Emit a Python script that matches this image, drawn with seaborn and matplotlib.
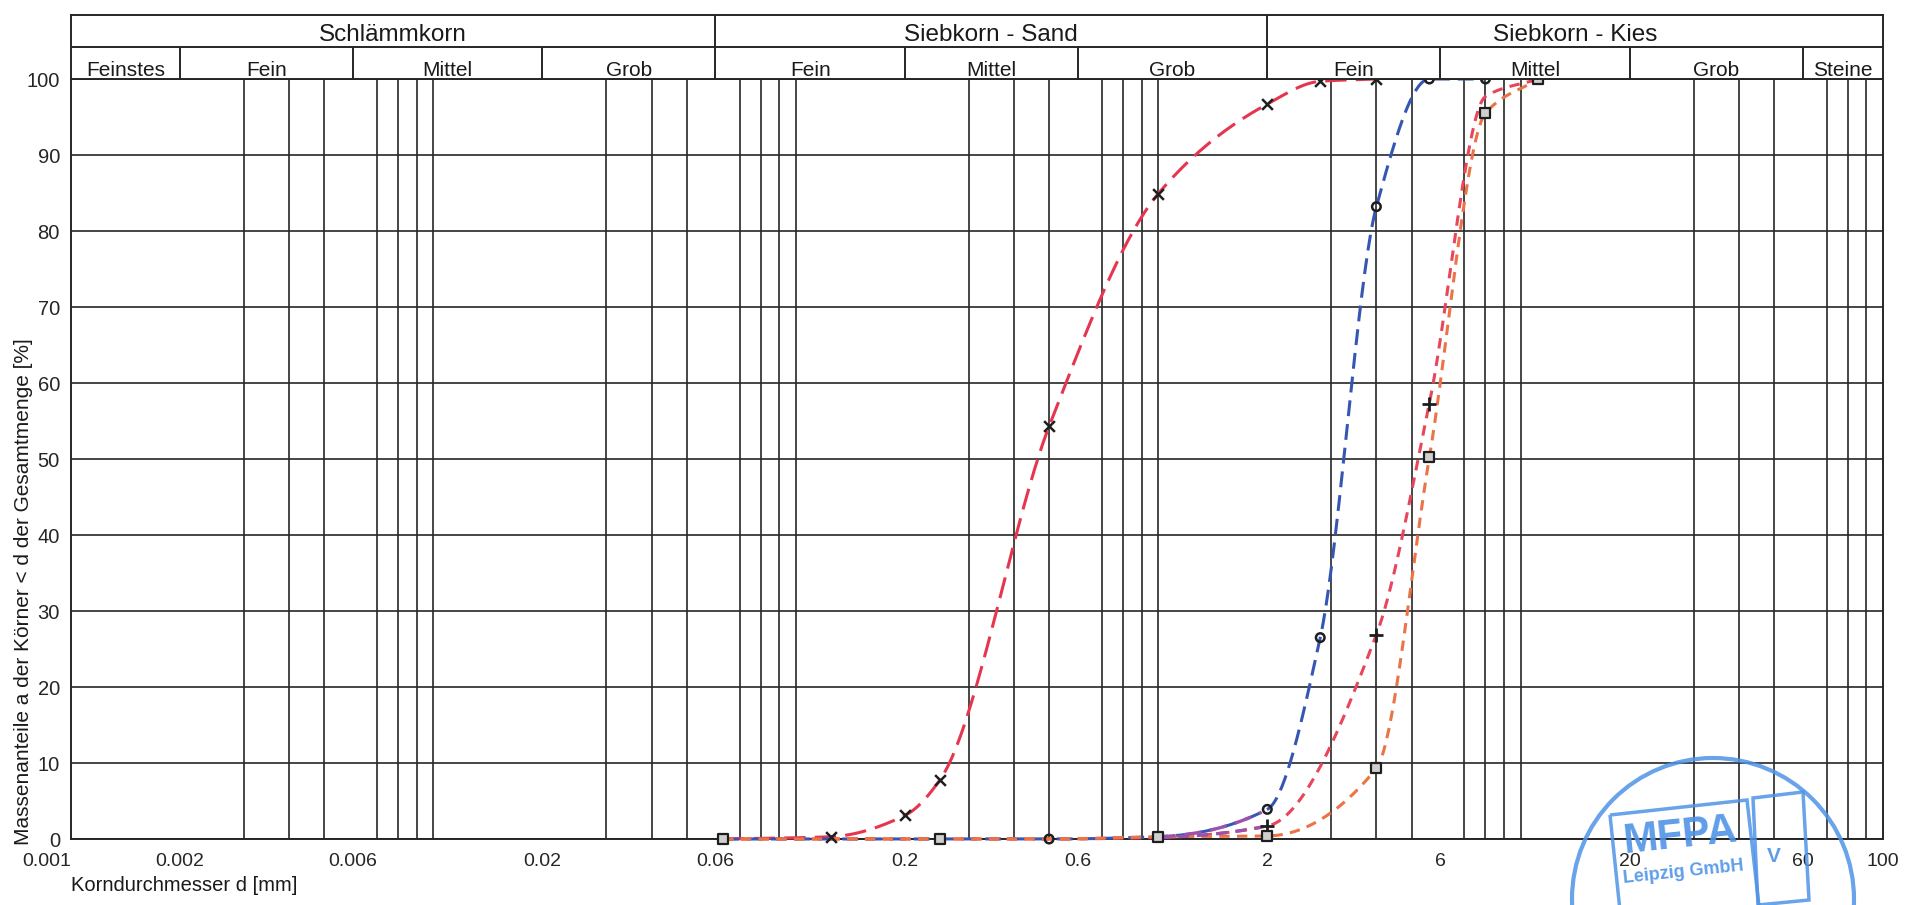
import matplotlib
matplotlib.use("Agg")
import matplotlib.pyplot as plt
from matplotlib import patches, transforms
from matplotlib.ticker import FixedLocator, NullFormatter
import numpy as np
import pandas as pd
import seaborn as sns

# grain size distribution: sieve size [mm] -> passing [%]
sand_d = [0.063, 0.125, 0.2, 0.25, 0.5, 1.0, 2.0, 2.8, 4.0]
sand_p = [0.0, 0.3, 3.1, 7.8, 54.3, 84.9, 96.7, 99.7, 100.0]

kies1_d = [0.063, 0.125, 0.25, 0.5, 1.0, 2.0, 2.8, 4.0, 5.6, 8.0]
kies1_p = [0.0, 0.0, 0.0, 0.0, 0.3, 3.9, 26.5, 83.2, 100.0, 100.0]

kies2_d = [0.063, 0.125, 0.25, 0.5, 1.0, 2.0, 4.0, 5.6, 8.0, 11.2]
kies2_p = [0.0, 0.0, 0.0, 0.0, 0.2, 1.7, 26.9, 57.3, 97.7, 100.0]

kies3_d = [0.063, 0.125, 0.25, 0.5, 1.0, 2.0, 4.0, 5.6, 8.0, 11.2]
kies3_p = [0.0, 0.0, 0.0, 0.0, 0.3, 0.4, 9.3, 50.2, 95.5, 100.0]

# header classes (DIN 18123 style)
main_groups = ["Schlämmkorn", "Siebkorn - Sand", "Siebkorn - Kies"]
main_bounds = [0.001, 0.06, 2, 100]
sub_groups = ["Feinstes", "Fein", "Mittel", "Grob", "Fein", "Mittel", "Grob",
              "Fein", "Mittel", "Grob", "Steine"]
sub_bounds = [0.001, 0.002, 0.006, 0.02, 0.06, 0.2, 0.6, 2, 6, 20, 60, 100]

x_ticks = [0.001, 0.002, 0.006, 0.02, 0.06, 0.2, 0.6, 2, 6, 20, 60, 100]
x_labels = ["0.001", "0.002", "0.006", "0.02", "0.06", "0.2", "0.6",
            "2", "6", "20", "60", "100"]
y_ticks = list(range(0, 101, 10))


def smooth_curve(d, p, n=40):
    """Monotone cubic (Fritsch-Carlson) through the sieve points, in log d."""
    x = np.log10(np.asarray(d, float))
    y = np.asarray(p, float)
    h = np.diff(x)
    delta = np.diff(y) / h
    m = np.zeros_like(y)
    for k in range(1, len(y) - 1):
        if delta[k - 1] * delta[k] > 0:
            w1 = 2 * h[k] + h[k - 1]
            w2 = h[k] + 2 * h[k - 1]
            m[k] = (w1 + w2) / (w1 / delta[k - 1] + w2 / delta[k])
    m[0] = delta[0]
    m[-1] = delta[-1]
    xs, ys = [], []
    for k in range(len(h)):
        t = np.linspace(0, 1, n)
        h00 = 2 * t**3 - 3 * t**2 + 1
        h10 = t**3 - 2 * t**2 + t
        h01 = -2 * t**3 + 3 * t**2
        h11 = t**3 - t**2
        yy = h00 * y[k] + h10 * h[k] * m[k] + h01 * y[k + 1] + h11 * h[k] * m[k + 1]
        xs.append(x[k] + t * h[k])
        ys.append(yy)
    return 10 ** np.concatenate(xs), np.clip(np.concatenate(ys), 0, 100)


sns.set_style("white")
plt.rcParams["font.family"] = ["Liberation Sans", "DejaVu Sans"]
plt.rcParams["text.color"] = "#1a1a1a"

W, H = 1909, 905
L, R, T, B, TOP = 71, 1883, 79, 839, 15
fig = plt.figure(figsize=(W / 100, H / 100), dpi=100)
fig.patch.set_facecolor("white")
ax = fig.add_axes([L / W, 1 - B / H, (R - L) / W, (B - T) / H])
hax = fig.add_axes([L / W, 1 - T / H, (R - L) / W, (T - TOP) / H])

grid_c = "#262626"
for a in (ax, hax):
    a.set_xscale("log")
    a.set_xlim(0.001, 100)
    for s in a.spines.values():
        s.set_color(grid_c)
        s.set_linewidth(1.4)

# ---- curves ----
purple = "#9b52ad"
series = [
    (sand_d, sand_p, "#e6364f", (7, 3), "x", [1, 2, 3, 4, 5, 6, 7, 8], False),
    (kies1_d, kies1_p, "#3557b3", (5.2, 2.6), "o", [3, 5, 6, 7, 8, 9], True),
    (kies2_d, kies2_p, "#e8465a", (3.4, 2.4), "P", [5, 6, 7], True),
    (kies3_d, kies3_p, "#ea7447", (3.4, 2.4), "s", [0, 2, 4, 5, 6, 7, 8, 9], False),
]
for d, p, col, dash, mk, shown, tint in series:
    cx, cy = smooth_curve(d, p)
    sns.lineplot(x=cx, y=cy, ax=ax, color=col, lw=2.2, linestyle=(0, dash),
                 errorbar=None, zorder=3, clip_on=False)
    if tint:
        # the print shows these two curves purple where they leave the baseline
        sel = (cx >= 1.0) & (cx <= 1.95)
        sns.lineplot(x=cx[sel], y=cy[sel], ax=ax, color=purple, lw=2.4,
                     linestyle=(0, dash), errorbar=None, zorder=3.5)
for d, p, col, dash, mk, shown, tint in series:
    df = pd.DataFrame({"d": d, "p": p}).iloc[shown]
    if mk == "x":
        sns.scatterplot(data=df, x="d", y="p", ax=ax, marker="x", s=60,
                        color="#1e1e1e", linewidth=1.8, zorder=6, clip_on=False)
    elif mk == "o":
        sns.scatterplot(data=df, x="d", y="p", ax=ax, marker="o", s=38,
                        facecolor="none", edgecolor="#1e1e1e", linewidth=1.8,
                        zorder=6, clip_on=False)
    elif mk == "P":
        sns.scatterplot(data=df, x="d", y="p", ax=ax, marker="+", s=90,
                        color="#1e1e1e", linewidth=2.0, zorder=6, clip_on=False)
    else:
        sns.scatterplot(data=df, x="d", y="p", ax=ax, marker="s", s=48,
                        facecolor="#cfcfcf", edgecolor="#1e1e1e", linewidth=1.6,
                        zorder=6, clip_on=False)

# ---- main plot grid ----
ax.set_xlim(0.001, 100)
ax.set_ylim(0, 100)
grid_x = [k * 10.0**e for e in range(-3, 2) for k in range(2, 11)]
ax.xaxis.set_minor_locator(FixedLocator(grid_x))
ax.xaxis.set_minor_formatter(NullFormatter())
ax.set_xticks(x_ticks, x_labels)
ax.set_yticks(y_ticks)
ax.grid(which="minor", axis="x", color=grid_c, lw=1.2)
ax.grid(which="major", axis="y", color=grid_c, lw=1.2)
ax.grid(which="major", axis="x", visible=False)
ax.tick_params(which="both", length=0)
ax.tick_params(axis="x", pad=10, labelsize=14)
ax.tick_params(axis="y", pad=8, labelsize=14.5)
plt.setp(ax.get_yticklabels(), va="center_baseline")
ax.get_xticklabels()[0].set_ha("right")
ax.set_xlabel("")
ax.set_ylabel("")

# ---- header table ----
hax.set_ylim(0, 2)
hax.set_xticks([])
hax.set_yticks([])
hax.minorticks_off()
hax.axhline(1, color=grid_c, lw=1.4)
hax.vlines(main_bounds[1:-1], 1, 2, color=grid_c, lw=1.4)
hax.vlines(sub_bounds[1:-1], 0, 1, color=grid_c, lw=1.4)
for i, name in enumerate(main_groups):
    xc = np.sqrt(main_bounds[i] * main_bounds[i + 1])
    hax.text(xc, 1.45, name, ha="center", va="center_baseline", fontsize=17.5)
for i, name in enumerate(sub_groups):
    xc = np.sqrt(sub_bounds[i] * sub_bounds[i + 1])
    hax.text(xc, 0.1, name, ha="center", va="baseline", fontsize=15)

# ---- axis titles ----
fig.text(24 / W, 1 - 845 / H, "Massenanteile a der Körner < d der Gesamtmenge [%]",
         rotation=90, ha="center", va="bottom", fontsize=15)
fig.text(L / W, 1 - 891 / H, "Korndurchmesser d [mm]", ha="left",
         va="baseline", fontsize=14.5)

# ---- lab stamp (pixel coordinates) ----
blue = "#4f93e6"
ident = transforms.IdentityTransform()


def P(x, y):
    return (x, H - y)


fig.add_artist(patches.Circle(P(1713, 899), 141, transform=ident, fill=False,
                              ec=blue, lw=3, alpha=0.85, zorder=10))
fig.add_artist(patches.Polygon([P(1610, 815), P(1747, 800), P(1760, 915), P(1622, 930)],
                               closed=True, transform=ident, fill=False, ec=blue,
                               lw=2.5, alpha=0.85, zorder=10))
fig.add_artist(patches.Polygon([P(1753, 798), P(1803, 792), P(1809, 900), P(1758, 905)],
                               closed=True, transform=ident, fill=False, ec=blue,
                               lw=2.5, alpha=0.85, zorder=10))
fig.text(1680 / W, 1 - 836 / H, "MFPA", ha="center", va="center", fontsize=30,
         fontweight="heavy", color=blue, rotation=6, alpha=0.9, zorder=11)
fig.text(1683 / W, 1 - 872 / H, "Leipzig GmbH", ha="center", va="center",
         fontsize=13, fontweight="bold", color=blue, rotation=6, alpha=0.9, zorder=11)
fig.text(1774 / W, 1 - 856 / H, "V", ha="center", va="center", fontsize=15,
         fontweight="bold", color=blue, alpha=0.9, zorder=11)

fig.savefig("out.png", dpi=100, facecolor="white")
